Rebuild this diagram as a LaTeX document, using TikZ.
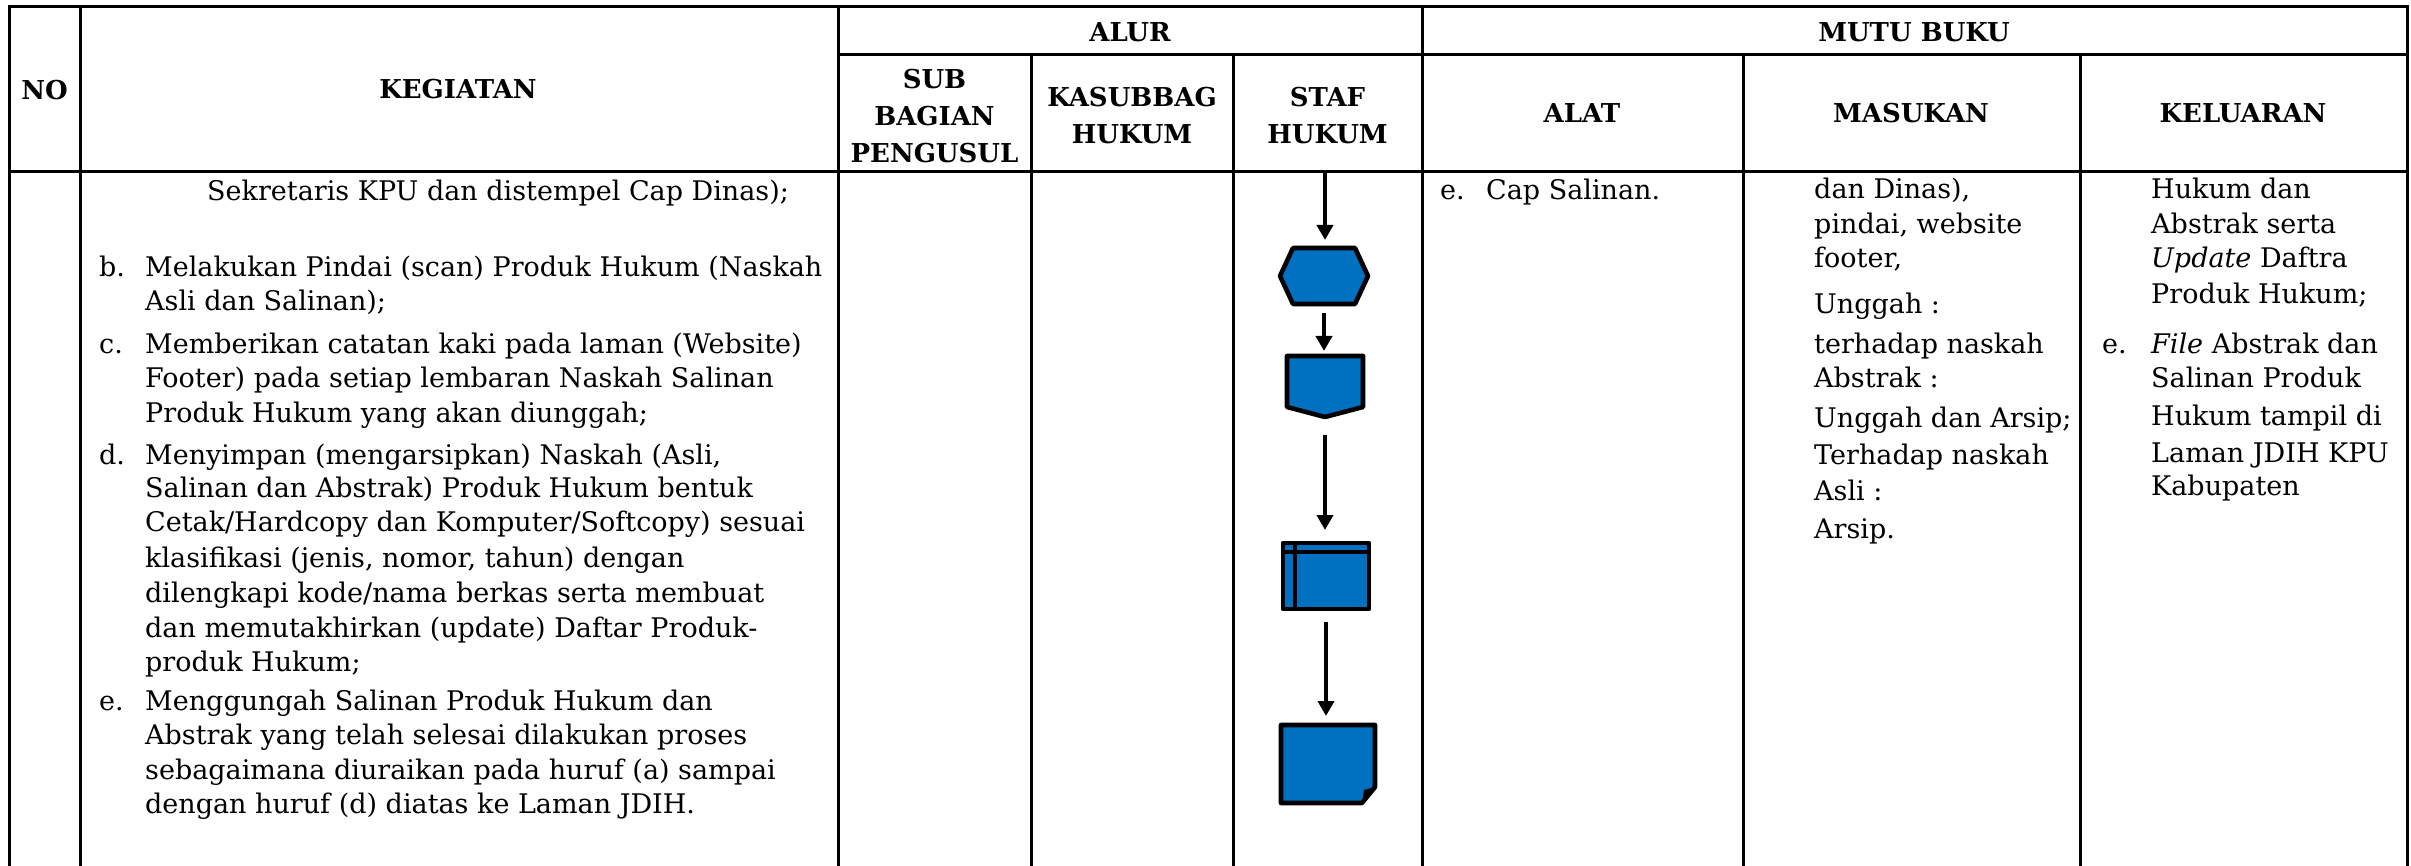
\documentclass[tikz,border=0pt]{standalone}
\usepackage{fontspec}
\setmainfont{DejaVu Serif}
\usetikzlibrary{arrows.meta,calc}
\definecolor{flowblue}{HTML}{0070C0}
\begin{document}
\begin{tikzpicture}[x=1pt,y=-1pt,
  grid/.style={line width=3pt},
  hdr/.style={font=\fontsize{26}{37}\selectfont\bfseries, align=center, inner sep=0pt},
  body/.style={font=\fontsize{27}{34}\selectfont, anchor=base west, inner sep=0pt},
  frame/.style={draw=none, inner sep=0pt, outer sep=0pt},
  shp/.style={draw=black, fill=flowblue, line width=4.6pt, line join=round},
  arr/.style={line width=4.6pt, -{Triangle[length=15pt,width=16pt]}},
]
\useasboundingbox (0,0) rectangle (2411,866);
% table grid
\draw[grid] (9,866) -- (9,7) -- (2407,7) -- (2407,866);
\draw[grid] (80,7) -- (80,866);
\draw[grid] (838,7) -- (838,866);
\draw[grid] (1422,7) -- (1422,866);
\draw[grid] (1031,55) -- (1031,866);
\draw[grid] (1233,55) -- (1233,866);
\draw[grid] (1743,55) -- (1743,866);
\draw[grid] (2080,55) -- (2080,866);
\draw[grid] (838,55) -- (2407,55);
\draw[grid] (9,172) -- (2407,172);
% headers
\node[hdr] (hno) at (44.5,90) {NO};
\node[hdr] (hkeg) at (458,89) {KEGIATAN};
\node[hdr] (halur) at (1130,32) {ALUR};
\node[hdr] (hmutu) at (1914,32) {MUTU BUKU};
\node[hdr] (hsub) at (934.5,116) {SUB\\BAGIAN\\PENGUSUL};
\node[hdr] (hkas) at (1132,116) {KASUBBAG\\HUKUM};
\node[hdr] (hstaf) at (1327.5,116) {STAF\\HUKUM};
\node[hdr] (halat) at (1582,113) {ALAT};
\node[hdr] (hmas) at (1911,113) {MASUKAN};
\node[hdr] (hkel) at (2243,113) {KELUARAN};
% KEGIATAN body
\node[body] (k0) at (207,201) {Sekretaris KPU dan distempel Cap Dinas);};
\foreach \y/\t [count=\i] in {277/b., 354/c., 464/d., 710/e.}
  \node[body] (kl\i) at (99,\y) {\t};
\foreach \y/\t [count=\i] in {
  277/{Melakukan Pindai (scan) Produk Hukum (Naskah},
  311/{Asli dan Salinan);},
  354/{Memberikan catatan kaki pada laman (Website)},
  388/{Footer) pada setiap lembaran Naskah Salinan},
  422/{Produk Hukum yang akan diunggah;},
  464/{Menyimpan (mengarsipkan) Naskah (Asli,},
  497/{Salinan dan Abstrak) Produk Hukum bentuk},
  531/{Cetak/Hardcopy dan Komputer/Softcopy) sesuai},
  567/{klasifikasi (jenis, nomor, tahun) dengan},
  602/{dilengkapi kode/nama berkas serta membuat},
  637/{dan memutakhirkan (update) Daftar Produk-},
  671/{produk Hukum;},
  710/{Menggungah Salinan Produk Hukum dan},
  744/{Abstrak yang telah selesai dilakukan proses},
  779/{sebagaimana diuraikan pada huruf (a) sampai},
  813/{dengan huruf (d) diatas ke Laman JDIH.}}
  \node[body] (k\i) at (145,\y) {\t};
% ALAT
\node[body] (alat1) at (1440,200) {e.};
\node[body] (alat2) at (1486,200) {Cap Salinan.};
% MASUKAN
\foreach \y/\t [count=\i] in {
  199/{dan Dinas),}, 234/{pindai, website}, 268/{footer,},
  314/{Unggah :}, 353/{terhadap naskah}, 388/{Abstrak :},
  427/{Unggah dan Arsip;}, 464/{Terhadap naskah}, 500/{Asli :},
  538/{Arsip.}}
  \node[body] (m\i) at (1814,\y) {\t};
% KELUARAN
\foreach \y/\t [count=\i] in {
  199/{Hukum dan}, 234/{Abstrak serta}, 268/{\textit{Update} Daftra},
  304/{Produk Hukum;}, 353/{\textit{File} Abstrak dan}, 388/{Salinan Produk},
  425/{Hukum tampil di}, 462/{Laman JDIH KPU}, 495/{Kabupaten}}
  \node[body] (o\i) at (2151,\y) {\t};
\node[body] (ol) at (2102,353) {e.};
% flow shapes
\node[frame, minimum width=88pt, minimum height=56pt] (hex) at (1324,276) {};
\draw[shp] (hex.west) -- ([xshift=13pt]hex.north west) -- ([xshift=-13pt]hex.north east)
  -- (hex.east) -- ([xshift=-13pt]hex.south east) -- ([xshift=13pt]hex.south west) -- cycle;
\node[frame, minimum width=76pt, minimum height=61pt] (pent) at (1325,386.5) {};
\draw[shp] (pent.north west) -- (pent.north east) -- ([yshift=10pt]pent.south east)
  -- (pent.south) -- ([yshift=10pt]pent.south west) -- cycle;
\node[frame, minimum width=86pt, minimum height=66pt] (stor) at (1326,576) {};
\draw[shp] (stor.north west) rectangle (stor.south east);
\draw[line width=3.8pt] ([xshift=12pt]stor.north west) -- ([xshift=12pt]stor.south west);
\draw[line width=3.8pt] ([yshift=-9pt]stor.north west) -- ([yshift=-9pt]stor.north east);
\node[frame, minimum width=94pt, minimum height=78pt] (note) at (1328,764) {};
\draw[shp] (note.north west) -- (note.north east) -- ([yshift=16pt]note.south east)
  -- ([xshift=-13pt]note.south east) -- (note.south west) -- cycle;
\fill[black] ([yshift=16pt]note.south east) -- ([xshift=-13pt]note.south east)
  -- ([xshift=-11pt,yshift=13pt]note.south east) -- cycle;
% connectors
\coordinate (start) at (1325,173);
\draw[arr, shorten >=8pt] (start) -- (start |- hex.north);
\draw[arr, shorten <=9pt, shorten >=5pt] (hex.south) -- (hex.south |- pent.north);
\draw[arr, shorten <=18pt, shorten >=13pt] (pent.south) -- (pent.south |- stor.north);
\draw[arr, shorten <=13pt, shorten >=9pt] (stor.south) -- (stor.south |- note.north);
\end{tikzpicture}
\end{document}
